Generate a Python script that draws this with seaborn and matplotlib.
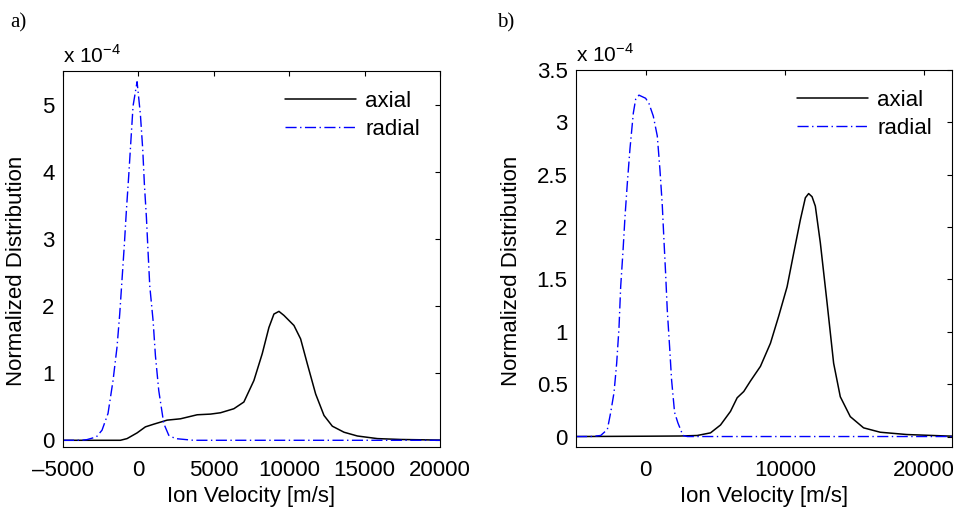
import numpy as np
import pandas as pd
import matplotlib
matplotlib.use("Agg")
import matplotlib.pyplot as plt
import seaborn as sns

# ---- data (values in units of 1e-4) ----
a_radial_x = [-5000, -3800, -3409, -2789, -2413, -2014, -1682, -1417, -1239, -1084, -930,
              -797, -642, -354, -88, 133, 288, 398, 531, 642, 753, 975, 1129, 1350,
              1682, 2014, 2457, 3650, 20000]
a_radial_y = [0, 0, 0.01, 0.05, 0.15, 0.40, 0.89, 1.39, 1.88, 2.40, 2.92,
              3.42, 3.94, 4.98, 5.34, 4.85, 4.33, 3.81, 3.32, 2.80, 2.30, 1.78, 1.26, 0.74,
              0.25, 0.074, 0.025, 0.0, 0.0]

a_axial_x = [-5000, -1195, -753, -88, 465, 1018, 1904, 2789, 3898, 4781, 5445, 6330,
             6994, 7659, 8212, 8655, 8987, 9319, 9651, 10315, 10757, 11200, 11753,
             12307, 12860, 13635, 14520, 15850, 17400, 20000]
a_axial_y = [0, 0, 0.025, 0.11, 0.20, 0.24, 0.30, 0.32, 0.38, 0.39, 0.41, 0.47,
             0.57, 0.89, 1.29, 1.68, 1.88, 1.92, 1.86, 1.71, 1.51, 1.14, 0.69,
             0.37, 0.21, 0.12, 0.064, 0.025, 0.012, 0.003]

b_radial_x = [-5000, -3943, -3226, -2748, -2509, -2270, -2079, -1912, -1792, -1625, -1481,
              -1314, -1123, -882, -717, -480, 0, 239, 550, 837, 1027, 1195, 1314, 1434,
              1553, 1720, 1864, 2079, 2318, 2509, 2676, 3000, 22000]
b_radial_y = [0, 0, 0.01, 0.067, 0.23, 0.42, 0.70, 1.04, 1.43, 1.77, 2.10,
              2.42, 2.75, 3.09, 3.22, 3.26, 3.23, 3.18, 3.06, 2.87, 2.55, 2.21, 1.88, 1.56,
              1.21, 0.86, 0.54, 0.23, 0.13, 0.067, 0.01, 0.0, 0.0]

b_axial_x = [-5000, 0, 2509, 3704, 4659, 5376, 6093, 6573, 7047, 7527, 8244, 8961, 9556,
             10158, 10631, 11111, 11470, 11706, 11950, 12186, 12545, 13026, 13500,
             13978, 14695, 15650, 16846, 18757, 21625, 22000]
b_axial_y = [0, 0.003, 0.005, 0.01, 0.035, 0.11, 0.24, 0.37, 0.43, 0.53, 0.67, 0.89, 1.15,
             1.43, 1.75, 2.07, 2.28, 2.32, 2.29, 2.20, 1.85, 1.28, 0.70,
             0.38, 0.19, 0.083, 0.041, 0.019, 0.005, 0.004]

a_xticks = [-5000, 0, 5000, 10000, 15000, 20000]
a_yticks = [0, 1, 2, 3, 4, 5]
b_xticks = [0, 10000, 20000]
b_yticks = [0, 0.5, 1, 1.5, 2, 2.5, 3, 3.5]
b_yticklabels = ["0", "0.5", "1", "1.5", "2", "2.5", "3", "3.5"]

sns.set_style("white")
plt.rcParams['font.family'] = ['Liberation Sans', 'DejaVu Sans']
plt.rcParams['mathtext.fontset'] = 'custom'
plt.rcParams['mathtext.rm'] = 'Liberation Sans'
plt.rcParams['text.color'] = 'black'
plt.rcParams['axes.labelcolor'] = 'black'
plt.rcParams['xtick.color'] = 'black'
plt.rcParams['ytick.color'] = 'black'
plt.rcParams['legend.labelcolor'] = 'black'

fig = plt.figure(figsize=(9.57, 5.11), dpi=100)
ax_a = fig.add_axes([63/957, 1-447/511, (440-63)/957, (447-71)/511])
ax_b = fig.add_axes([576/957, 1-447/511, (952-576)/957, (447-70)/511])

dashdot = (0, (8, 2.5, 1, 2.5))
FS = 16

def draw(ax, ax_x, ax_y, r_x, r_y, ylab_x):
    sns.lineplot(x=ax_x, y=ax_y, ax=ax, color='black', lw=1.1, label='axial', sort=False)
    sns.lineplot(x=r_x, y=r_y, ax=ax, color='#0000ff', lw=1.0, linestyle=dashdot,
                 label='radial', sort=False)
    for s in ax.spines.values():
        s.set_visible(True)
        s.set_color('black')
        s.set_linewidth(0.8)
    ax.tick_params(direction='in', length=3.5, width=0.8, top=True, right=True,
                   labelsize=FS, colors='black')
    ax.tick_params(axis='x', pad=9)
    ax.tick_params(axis='y', pad=6)
    ax.set_xlabel('Ion Velocity [m/s]', fontsize=FS, labelpad=4, color='black')
    ax.set_ylabel('Normalized Distribution', fontsize=FS, color='black')
    ax.yaxis.set_label_coords(ylab_x, 0.468)
    ax.legend(loc='upper right', frameon=False, fontsize=FS, handlelength=3.2,
              handletextpad=0.4, borderaxespad=0.5, labelspacing=0.32,
              labelcolor='black')
    ax.text(0.0, 1.012, r'x 10$^{-4}$', transform=ax.transAxes, fontsize=15,
            ha='left', va='bottom', color='black')

draw(ax_a, a_axial_x, a_axial_y, a_radial_x, a_radial_y, -0.095)
ax_a.set_xlim(-5000, 20000)
ax_a.set_ylim(-0.1, 5.5)
ax_a.set_xticks(a_xticks)
ax_a.set_xticklabels([str(t).replace('-', '\u2013') for t in a_xticks])
ax_a.set_yticks(a_yticks)
ax_a.set_yticklabels([str(t) for t in a_yticks])

draw(ax_b, b_axial_x, b_axial_y, b_radial_x, b_radial_y, -0.144)
ax_b.set_xlim(-5000, 22000)
ax_b.set_ylim(-0.1, 3.5)
ax_b.set_xticks(b_xticks)
ax_b.set_xticklabels([str(t) for t in b_xticks])
ax_b.set_yticks(b_yticks)
ax_b.set_yticklabels(b_yticklabels)

fig.text(10/957, 1-23/511, 'a)', fontsize=15, family='Liberation Serif', va='center',
         ha='left', color='black')
fig.text(497/957, 1-23/511, 'b)', fontsize=15, family='Liberation Serif', va='center',
         ha='left', color='black')

fig.savefig('out.png', dpi=100)
